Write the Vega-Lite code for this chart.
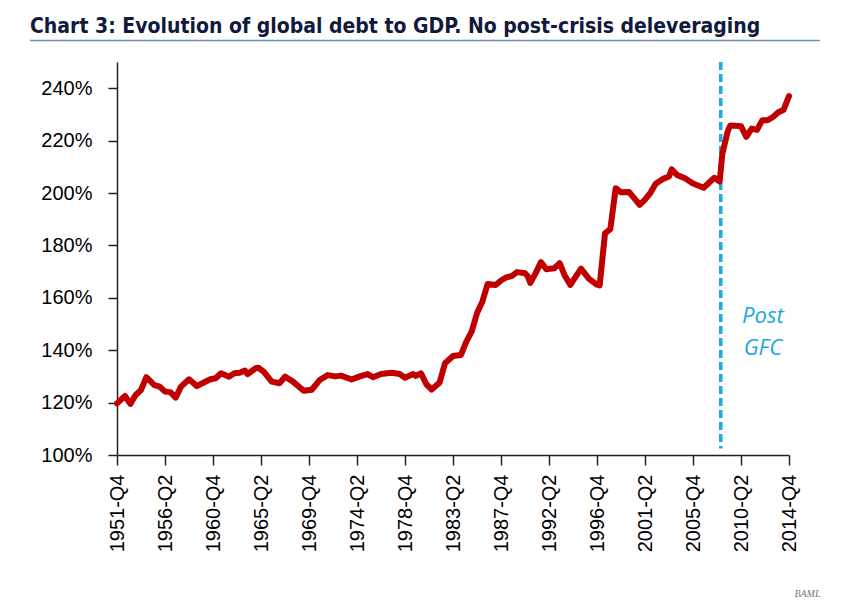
{
  "$schema": "https://vega.github.io/schema/vega-lite/v6.json",
  "autosize": "none",
  "width": 672,
  "height": 393,
  "padding": {"left": 117, "top": 62, "right": 54, "bottom": 147},
  "background": "white",
  "config": {"view": {"stroke": null}},
  "title": {
    "text": "Chart 3: Evolution of global debt to GDP. No post-crisis deleveraging",
    "anchor": "start",
    "frame": "group",
    "dx": -87,
    "offset": -14,
    "baseline": "alphabetic",
    "font": "DejaVu Sans Condensed, sans-serif",
    "fontSize": 21,
    "fontWeight": "bold",
    "color": "#101a3c"
  },
  "datasets": {
    "debt": [
      {"t": 1951.75, "v": 119.7}, {"t": 1952.5, "v": 122.5}, {"t": 1953.0, "v": 119.5}, {"t": 1953.5, "v": 122.9},
      {"t": 1954.0, "v": 124.8}, {"t": 1954.5, "v": 129.7}, {"t": 1955.25, "v": 126.7}, {"t": 1955.75, "v": 126.1},
      {"t": 1956.25, "v": 124.2}, {"t": 1956.75, "v": 124.0}, {"t": 1957.25, "v": 121.9}, {"t": 1957.75, "v": 126.1},
      {"t": 1958.5, "v": 128.9}, {"t": 1959.25, "v": 126.3}, {"t": 1959.75, "v": 127.4}, {"t": 1960.5, "v": 128.9},
      {"t": 1961.0, "v": 129.3}, {"t": 1961.5, "v": 131.2}, {"t": 1962.25, "v": 129.9}, {"t": 1962.75, "v": 131.2},
      {"t": 1963.25, "v": 131.4}, {"t": 1963.75, "v": 132.2}, {"t": 1964.0, "v": 130.9}, {"t": 1964.75, "v": 133.1},
      {"t": 1965.0, "v": 133.3}, {"t": 1965.5, "v": 131.8}, {"t": 1966.25, "v": 128.0}, {"t": 1967.0, "v": 127.4},
      {"t": 1967.5, "v": 129.9}, {"t": 1968.25, "v": 128.0}, {"t": 1969.25, "v": 124.5}, {"t": 1970.0, "v": 124.9},
      {"t": 1970.75, "v": 128.6}, {"t": 1971.5, "v": 130.5}, {"t": 1972.25, "v": 130.0}, {"t": 1972.75, "v": 130.3},
      {"t": 1973.75, "v": 128.8}, {"t": 1974.5, "v": 130.0}, {"t": 1975.25, "v": 130.9}, {"t": 1975.75, "v": 129.7},
      {"t": 1976.5, "v": 130.9}, {"t": 1977.5, "v": 131.4}, {"t": 1978.25, "v": 130.9}, {"t": 1978.75, "v": 129.5},
      {"t": 1979.5, "v": 130.9}, {"t": 1979.75, "v": 130.2}, {"t": 1980.25, "v": 131.2}, {"t": 1980.75, "v": 127.0},
      {"t": 1981.25, "v": 125.0}, {"t": 1982.0, "v": 127.7}, {"t": 1982.5, "v": 135.0}, {"t": 1983.25, "v": 137.8},
      {"t": 1984.0, "v": 138.2}, {"t": 1984.5, "v": 143.3}, {"t": 1985.0, "v": 147.1}, {"t": 1985.5, "v": 154.1},
      {"t": 1986.0, "v": 158.5}, {"t": 1986.5, "v": 165.3}, {"t": 1987.25, "v": 164.9}, {"t": 1987.75, "v": 166.6},
      {"t": 1988.25, "v": 167.8}, {"t": 1988.75, "v": 168.3}, {"t": 1989.25, "v": 169.8}, {"t": 1990.0, "v": 169.4},
      {"t": 1990.25, "v": 168.3}, {"t": 1990.5, "v": 165.7}, {"t": 1991.0, "v": 169.4}, {"t": 1991.5, "v": 173.6},
      {"t": 1992.0, "v": 170.9}, {"t": 1992.75, "v": 171.3}, {"t": 1993.25, "v": 173.2}, {"t": 1993.75, "v": 168.3},
      {"t": 1994.25, "v": 164.9}, {"t": 1995.25, "v": 171.1}, {"t": 1996.0, "v": 167.2}, {"t": 1996.75, "v": 165.0},
      {"t": 1997.0, "v": 164.7}, {"t": 1997.5, "v": 184.6}, {"t": 1998.0, "v": 186.2}, {"t": 1998.5, "v": 201.8},
      {"t": 1999.0, "v": 200.3}, {"t": 1999.75, "v": 200.4}, {"t": 2000.75, "v": 195.5}, {"t": 2001.25, "v": 197.5},
      {"t": 2001.75, "v": 200.0}, {"t": 2002.25, "v": 203.5}, {"t": 2003.0, "v": 205.5}, {"t": 2003.5, "v": 206.3},
      {"t": 2003.75, "v": 209.0}, {"t": 2004.25, "v": 206.9}, {"t": 2005.0, "v": 205.6}, {"t": 2005.75, "v": 203.6},
      {"t": 2006.75, "v": 202.0}, {"t": 2007.75, "v": 205.8}, {"t": 2008.25, "v": 204.4}, {"t": 2008.5, "v": 215.0},
      {"t": 2009.0, "v": 223.5}, {"t": 2009.25, "v": 225.8}, {"t": 2010.0, "v": 225.6}, {"t": 2010.25, "v": 225.5},
      {"t": 2010.75, "v": 221.4}, {"t": 2011.25, "v": 224.6}, {"t": 2011.75, "v": 224.1}, {"t": 2012.25, "v": 227.8},
      {"t": 2012.75, "v": 227.8}, {"t": 2013.25, "v": 229.0}, {"t": 2013.75, "v": 230.8}, {"t": 2014.25, "v": 231.8},
      {"t": 2014.75, "v": 237.0}
    ],
    "gfc": [{"t": 2008.35, "top": 250, "bottom": 102.5}],
    "note": [{"t": 2012.3, "v": 153.1, "label": "Post"}, {"t": 2012.3, "v": 140.9, "label": "GFC"}],
    "underline": [{"t0": 1943.6, "t1": 2017.65, "v": 258.2}]
  },
  "layer": [
    {
      "data": {"name": "underline"},
      "mark": {"type": "rule", "color": "#6f8db2", "strokeWidth": 1.5},
      "encoding": {
        "x": {"field": "t0", "type": "quantitative", "scale": {"domain": [1951.75, 2014.75], "nice": false, "zero": false}},
        "x2": {"field": "t1"},
        "y": {"field": "v", "type": "quantitative", "scale": {"domain": [100, 250], "nice": false, "zero": false}}
      }
    },
    {
      "data": {"name": "gfc"},
      "mark": {"type": "rule", "color": "#1fa9df", "strokeWidth": 3.5, "strokeDash": [8, 4]},
      "encoding": {
        "x": {"field": "t", "type": "quantitative"},
        "y": {"field": "top", "type": "quantitative"},
        "y2": {"field": "bottom"}
      }
    },
    {
      "data": {"name": "debt"},
      "mark": {"type": "line", "color": "#c00000", "strokeWidth": 6, "strokeJoin": "round", "strokeCap": "round"},
      "encoding": {
        "x": {
          "field": "t", "type": "quantitative",
          "axis": {
            "values": [1951.75, 1956.25, 1960.75, 1965.25, 1969.75, 1974.25, 1978.75, 1983.25, 1987.75, 1992.25, 1996.75, 2001.25, 2005.75, 2010.25, 2014.75],
            "labelExpr": "floor(datum.value) + '-Q' + (round((datum.value - floor(datum.value)) * 4) + 1)",
            "labelAngle": -90,
            "labelFont": "Liberation Sans",
            "labelFontSize": 20,
            "labelColor": "#000000",
            "labelPadding": 9,
            "labelFlush": false,
            "labelOverlap": false,
            "tickSize": 10,
            "tickColor": "#222222",
            "tickWidth": 1.5,
            "domainColor": "#222222",
            "domainWidth": 1.5,
            "grid": false,
            "title": "BAML",
            "titleFont": "Liberation Serif",
            "titleFontStyle": "italic",
            "titleFontWeight": "normal",
            "titleFontSize": 10,
            "titleColor": "#777777",
            "titleAnchor": "end",
            "titleAlign": "right",
            "titleBaseline": "middle",
            "titleX": 703,
            "titleY": 138
          }
        },
        "y": {
          "field": "v", "type": "quantitative",
          "axis": {
            "values": [100, 120, 140, 160, 180, 200, 220, 240],
            "labelExpr": "datum.value + '%'",
            "labelFont": "Liberation Sans",
            "labelFontSize": 20,
            "labelColor": "#000000",
            "labelPadding": 16,
            "tickSize": 9,
            "tickColor": "#222222",
            "tickWidth": 1.5,
            "domainColor": "#222222",
            "domainWidth": 1.5,
            "grid": false,
            "title": null
          }
        }
      }
    },
    {
      "data": {"name": "note"},
      "mark": {"type": "text", "color": "#1ba8df", "font": "Open Sans", "fontStyle": "italic", "fontSize": 22, "align": "center", "baseline": "middle"},
      "encoding": {
        "x": {"field": "t", "type": "quantitative"},
        "y": {"field": "v", "type": "quantitative"},
        "text": {"field": "label"}
      }
    }
  ]
}
